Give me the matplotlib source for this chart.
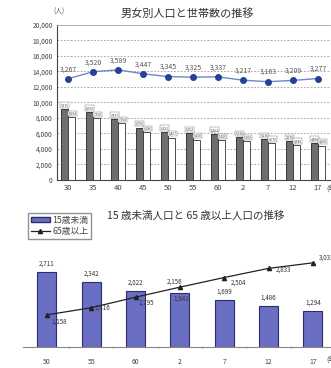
import matplotlib
matplotlib.use("Agg")
from matplotlib import pyplot as plt
from matplotlib.patches import Patch
from matplotlib.lines import Line2D
import numpy as np

plt.rcParams['font.family'] = ['Noto Sans CJK JP', 'DejaVu Sans']

# top chart: population by sex and households
years_top = ['30', '35', '40', '45', '50', '55', '60', '2', '7', '12', '17']
pop_dark = [9176, 8790, 7877, 6750, 6192, 6052, 5963, 5530, 5230, 4970, 4800]
pop_white = [8094, 7950, 7304, 6180, 5467, 5200, 5100, 5000, 4770, 4540, 4450]
households = [3267, 3520, 3589, 3447, 3345, 3325, 3337, 3217, 3163, 3209, 3277]

# bottom chart: under 15 / 65 and over
years_bot = ['50', '55', '60', '2', '7', '12', '17']
under15 = [2711, 2342, 2022, 1941, 1699, 1486, 1294]
over65 = [1158, 1416, 1795, 2156, 2504, 2833, 3033]

W, H = 331, 368
fig = plt.figure(figsize=(W / 100, H / 100), dpi=100)


def px(x0, y0, x1, y1):
    return [x0 / W, 1 - y1 / H, (x1 - x0) / W, (y1 - y0) / H]


# ---- top chart ----
ax1 = fig.add_axes(px(57, 25, 331, 180))
x = np.arange(len(years_top))
bw = 0.28
ax1.bar(x - bw / 2, pop_dark, bw, color='#6e6e6e', edgecolor='#222222', linewidth=0.6, zorder=3)
ax1.bar(x + bw / 2, pop_white, bw, color='white', edgecolor='#333333', linewidth=0.6, zorder=3)
for i in range(len(x)):
    ax1.text(x[i] - bw / 2, pop_dark[i] + 250, f'{pop_dark[i]:,}', ha='center', va='bottom',
             fontsize=2.3, color='#444', zorder=5,
             bbox=dict(boxstyle='square,pad=0.2', fc='white', ec='#666', lw=0.3))
    ax1.text(x[i] + bw / 2 + 0.05, pop_white[i] + 250, f'{pop_white[i]:,}', ha='center', va='bottom',
             fontsize=2.3, color='#444', zorder=5,
             bbox=dict(boxstyle='square,pad=0.2', fc='white', ec='#666', lw=0.3))
ax1.set_xlim(-0.44, 10.52)
ax1.set_ylim(0, 20000)
ax1.set_yticks(range(0, 20001, 2000))
ax1.set_yticklabels([f'{v:,}' for v in range(0, 20001, 2000)], fontsize=4.8, color='#444')
ax1.set_xticks(x)
ax1.set_xticklabels(years_top, fontsize=5.5, color='#444')
ax1.tick_params(length=0, pad=3)
ax1.yaxis.grid(True, linestyle=(0, (2, 2)), color='#999999', linewidth=0.6, zorder=0)
for s in ['right']:
    ax1.spines[s].set_visible(False)
ax1.spines['top'].set_color('#aaaaaa')
ax1.spines['top'].set_linewidth(0.6)
ax1.spines['left'].set_color('#444444')
ax1.spines['bottom'].set_color('#444444')

ax2 = ax1.twinx()
ax2.plot(x, households, color='#6f86c8', linewidth=1, marker='o', markersize=4,
         markerfacecolor='#24409a', markeredgecolor='#24409a', zorder=4)
for i in range(len(x)):
    ax2.annotate(f'{households[i]:,}', (x[i], households[i]), xytext=(0, 4),
                 textcoords='offset points', ha='center', va='bottom', fontsize=5, color='#555')
ax2.set_ylim(-360, 5195)
ax2.set_yticks([])
for s in ax2.spines.values():
    s.set_visible(False)

fig.text(187 / W, 1 - 14 / H, '男女別人口と世帯数の推移', ha='center', va='center', fontsize=8, color='#333')
fig.text(59 / W, 1 - 12 / H, '(人)', ha='center', va='center', fontsize=4.8, color='#555')
fig.text(326 / W, 1 - 189 / H, '(年)', ha='left', va='center', fontsize=5, color='#444')

# ---- bottom chart ----
ax3 = fig.add_axes(px(23, 236, 331, 347))
xb = np.arange(len(years_bot))
ax3.bar(xb, under15, 0.43, color='#6b6fc4', edgecolor='#2a2d70', linewidth=0.8, zorder=2)
ax3.plot(xb, over65, color='#222222', linewidth=0.9, marker='^', markersize=3, zorder=3)
for i in range(len(xb)):
    if i == 3:
        ax3.annotate(f'{under15[i]:,}', (xb[i], under15[i]), xytext=(1, -4),
                     textcoords='offset points', ha='center', va='center', fontsize=4.5, color='#333')
    else:
        ax3.annotate(f'{under15[i]:,}', (xb[i], under15[i]), xytext=(0, 3),
                     textcoords='offset points', ha='center', va='bottom', fontsize=4.5, color='#333')
offs = [(3, -5), (2, 0), (2, -4), (-4, 4), (5, -4), (5, -1), (4, 4)]
has = ['left', 'left', 'left', 'center', 'left', 'left', 'left']
for i in range(len(xb)):
    ax3.annotate(f'{over65[i]:,}', (xb[i], over65[i]), xytext=offs[i],
                 textcoords='offset points', ha=has[i], va='center', fontsize=4.5, color='#333')
ax3.set_xlim(-0.54, 6.41)
ax3.set_ylim(0, 4000)
ax3.set_yticks([])
ax3.set_xticks(xb)
ax3.set_xticklabels(years_bot, fontsize=5, color='#444')
ax3.set_xticks(xb[:-1] + 0.5, minor=True)
ax3.tick_params(axis='x', which='major', length=0, pad=8)
ax3.tick_params(axis='x', which='minor', length=2, direction='inout', color='#888')
for s in ['top', 'right', 'left']:
    ax3.spines[s].set_visible(False)
ax3.spines['bottom'].set_color('#888888')

handles = [Patch(facecolor='#6b6fc4', edgecolor='#2a2d70', label='15歳未満'),
           Line2D([], [], color='#222222', marker='^', markersize=3, linewidth=0.9, label='65歳以上')]
fig.legend(handles=handles, loc='upper left', bbox_to_anchor=(28 / W, 1 - 213 / H),
           fontsize=6.3, frameon=True, fancybox=False, edgecolor='#777777',
           handlelength=2.2, handleheight=0.6, borderpad=0.3, labelspacing=0.3,
           handletextpad=0.3, borderaxespad=0, labelcolor='#444')
fig.text(107 / W, 1 - 216 / H, '15 歳未満人口と 65 歳以上人口の推移', ha='left', va='center',
         fontsize=7.6, color='#333')
fig.text(326 / W, 1 - 360 / H, '(年)', ha='left', va='center', fontsize=5, color='#444')

fig.savefig('out.png', dpi=100)
